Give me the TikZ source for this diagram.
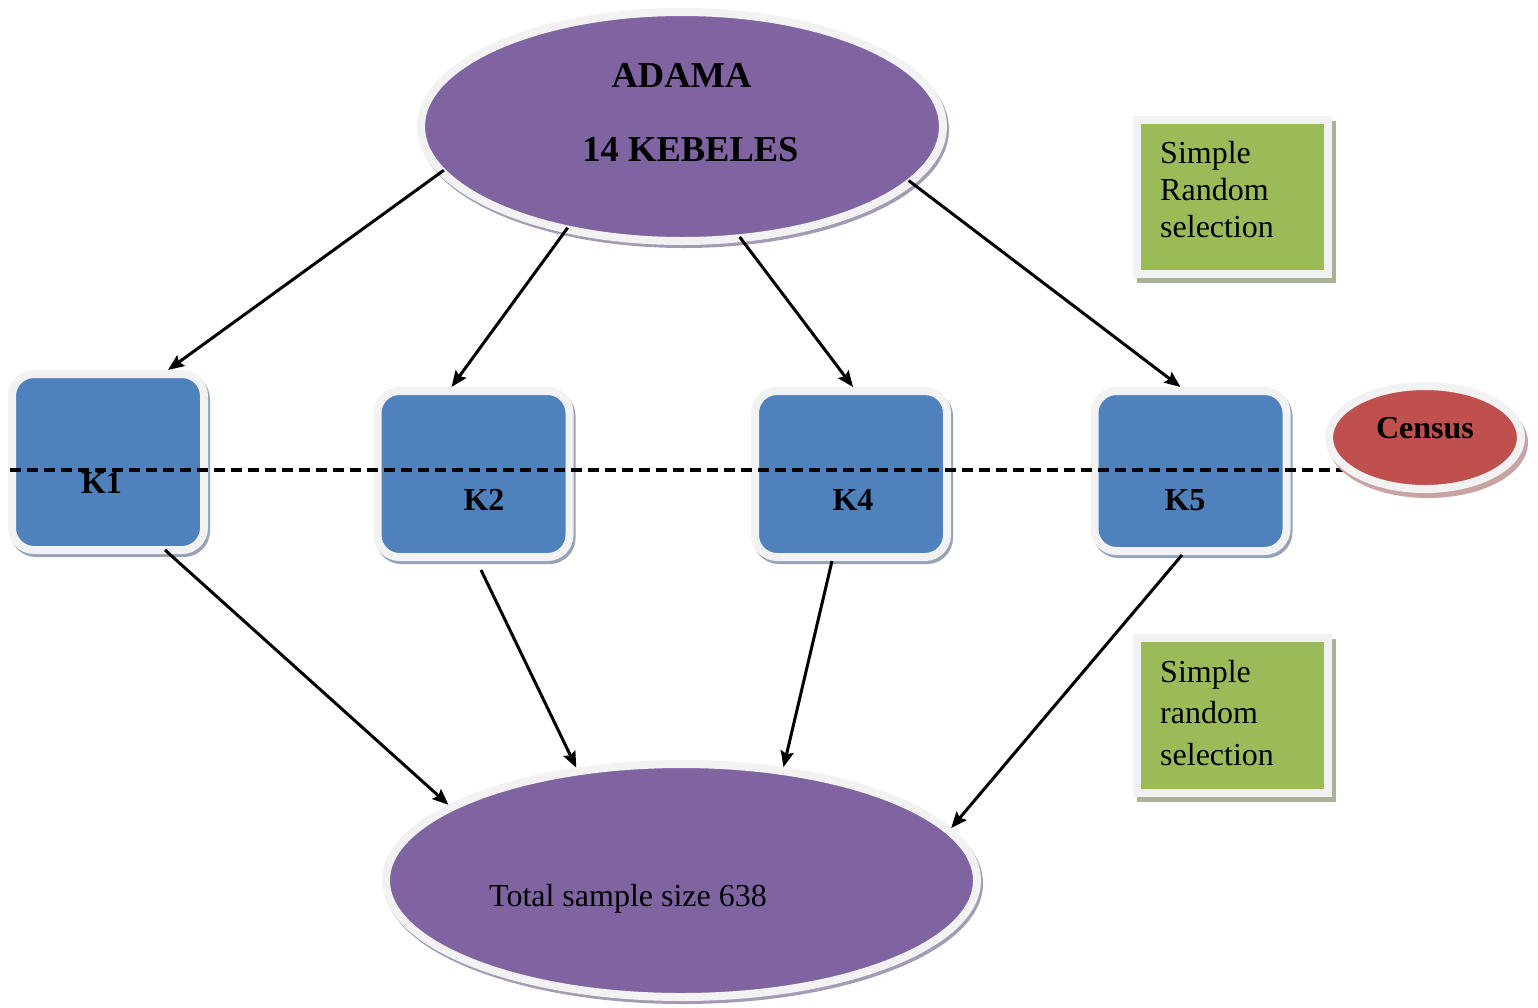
\documentclass[tikz,border=0pt]{standalone}
\usepackage{fontspec}
\setmainfont{Liberation Serif}
\usetikzlibrary{shapes.geometric, shadows, arrows.meta}

\definecolor{adamapurple}{HTML}{8064A2}
\definecolor{kebeleblue}{HTML}{4F81BD}
\definecolor{selectgreen}{HTML}{9BBB59}
\definecolor{censusred}{HTML}{C0504D}
\definecolor{rimgrey}{HTML}{F2F2F2}
\definecolor{purpleshade}{HTML}{A39BB3}
\definecolor{blueshade}{HTML}{94A3B8}
\definecolor{greenshade}{HTML}{A8B296}
\definecolor{redshade}{HTML}{C9A3A3}

\begin{document}
\begin{tikzpicture}
				[
					x = 1pt, y = -1pt,
					rim/.style = {draw = rimgrey, line width = 8pt},
					oval/.style = {ellipse, rim, fill = adamapurple, general shadow = {shadow xshift = 2pt, shadow yshift = -3pt, fill = purpleshade, draw = purpleshade, line width = 8pt, opacity = 1}},
					kbox/.style = {rectangle, rounded corners = 22pt, rim, fill = kebeleblue, minimum width = 192pt, general shadow = {shadow xshift = 2pt, shadow yshift = -3pt, fill = blueshade, draw = blueshade, line width = 8pt, opacity = 1}},
					note/.style = {rectangle, rim, fill = selectgreen, minimum width = 191pt, minimum height = 154pt, general shadow = {shadow xshift = 4pt, shadow yshift = -5pt, fill = greenshade, draw = greenshade, line width = 8pt, opacity = 1}},
					censusoval/.style = {ellipse, rim, fill = censusred, minimum width = 192pt, minimum height = 103pt, general shadow = {shadow xshift = 3pt, shadow yshift = -5pt, fill = redshade, draw = redshade, line width = 8pt, opacity = 1}},
					bigbold/.style = {font = \bfseries\fontsize{36.5}{44}\selectfont, inner sep = 0pt},
					boldtext/.style = {font = \bfseries\fontsize{32}{38}\selectfont, inner sep = 0pt},
					plaintext/.style = {font = \fontsize{32}{37}\selectfont, align = left, inner sep = 0pt},
					link/.style = {-{Stealth[length = 16pt, width = 13pt, inset = 2.5pt]}, line width = 3pt},
					spread/.style = {link, shorten <= -6pt},
					divider/.style = {dash pattern = on 11pt off 6pt, line width = 3.2pt}
				]
				\useasboundingbox (0,0) rectangle (1538,1007);

				\node[oval, minimum width = 522pt, minimum height = 229pt] (adama) at (682,126.5) {};
				\node[bigbold, anchor = base] (adamaname) at (681.5,87) {ADAMA};
				\node[bigbold, anchor = base] (kebelecount) at (690.5,161) {14 KEBELES};

				\node[note] (randomtop) at (1232.5,197) {};
				\node[plaintext, anchor = north west] (randomtoptext) at (1160,141) {Simple\\Random\\selection};

				\node[kbox, minimum height = 176pt] (k1) at (108,462) {};
				\node[kbox, minimum height = 166pt] (k2) at (473.5,474) {};
				\node[kbox, minimum height = 166pt] (k4) at (851,474) {};
				\node[kbox, minimum height = 160pt] (k5) at (1190.5,471) {};
				\node[boldtext, anchor = base] (k1name) at (101.5,493) {K1};
				\node[boldtext, anchor = base] (k2name) at (484,510) {K2};
				\node[boldtext, anchor = base] (k4name) at (853,510) {K4};
				\node[boldtext, anchor = base] (k5name) at (1185,510) {K5};

				\coordinate (cutstart) at (10,470);
				\coordinate (cutend) at (1344,470);
				\draw[divider] (cutstart) -- (cutend);

				\node[censusoval] (census) at (1425,437.5) {};
				\node[boldtext, anchor = base] (censusname) at (1425,438) {Census};

				\node[note, minimum height = 155pt] (randombottom) at (1232.5,715.5) {};
				\node[plaintext, anchor = north west, font = \fontsize{32}{41.5}\selectfont] (randombottomtext) at (1160,660) {Simple\\random\\selection};

				\node[oval, minimum width = 591pt, minimum height = 233pt] (total) at (681.5,880.5) {};
				\node[plaintext, anchor = base] (totalname) at (628,906) {Total sample size 638};

				\draw[spread] (adama.191.7) -- ([xshift = 60pt]k1.north);
				\draw[spread] (adama.222.8) -- ([xshift = -22pt]k2.north);
				\draw[spread] (adama.298.3) -- ([xshift = 2pt]k4.north);
				\draw[spread] (adama.346.4) -- ([xshift = -10pt]k5.north);
				\draw[link] ([xshift = 57pt, yshift = 4pt]k1.south) -- (total.162.1);
				\draw[link] ([xshift = 7.5pt, yshift = -9pt]k2.south) -- (total.133.5);
				\draw[link] ([xshift = -19pt]k4.south) -- (total.48.3);
				\draw[link] ([xshift = -8.5pt]k5.south) -- (total.11.1);
		\end{tikzpicture}
\end{document}
